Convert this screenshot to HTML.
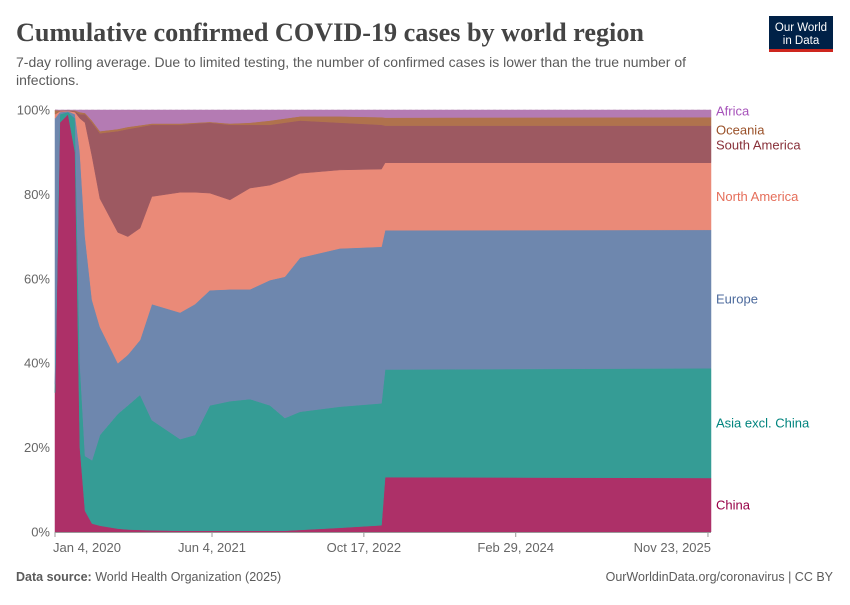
<!DOCTYPE html>
<html><head><meta charset="utf-8"><style>
body{margin:0;background:#fff;width:850px;height:600px;overflow:hidden;font-family:"Liberation Sans",sans-serif}
</style></head><body>
<svg width="850" height="600" xmlns="http://www.w3.org/2000/svg">
<text x="16" y="41" font-family="Liberation Serif,serif" font-weight="bold" font-size="26.2" fill="#444">Cumulative confirmed COVID-19 cases by world region</text>
<text x="16" y="67" font-size="14" fill="#5b5b5b">7-day rolling average. Due to limited testing, the number of confirmed cases is lower than the true number of</text>
<text x="16" y="85" font-size="14" fill="#5b5b5b">infections.</text>
<g>
<rect x="769" y="16" width="64" height="33" fill="#002147"/>
<rect x="769" y="49" width="64" height="3" fill="#ce261e"/>
<text x="801" y="31" font-size="11.5" fill="#fff" text-anchor="middle">Our World</text>
<text x="801" y="44" font-size="11.5" fill="#fff" text-anchor="middle">in Data</text>
</g>
<g id="grid"></g>
<g id="areas"></g>
<g id="axes"></g>
<g id="labels"></g>
<text x="16" y="581" font-size="12.5" fill="#5b5b5b"><tspan font-weight="bold">Data source:</tspan> World Health Organization (2025)</text>
<text x="833" y="581" font-size="12.5" fill="#5b5b5b" text-anchor="end">OurWorldinData.org/coronavirus | CC BY</text>
</svg>
<script>
const regions=["China","Asia excl. China","Europe","North America","South America","Oceania","Africa"];
const fills=["#ad3068","#359c95","#6e87ae","#ea8a78","#9d5961","#b0724d","#b47bb3"];
const labelColors=["#970046","#00847e","#4c6a9c","#e56e5a","#883039","#9a5129","#a652ba"];
const days=[0,16,43,66,82,99,122,148,207,240,280,319,412,461,510,576,642,708,757,807,938,1075,1087,2160];
const china=[33,97,99,90,20,5,2,1.5,0.8,0.6,0.5,0.4,0.3,0.3,0.3,0.3,0.3,0.3,0.3,0.5,1,1.6,13,12.8];
const asia=[2,2,0.5,8,20,13,15,21.5,27.2,29.4,32,26.1,21.7,22.7,29.7,30.7,31.2,29.7,26.7,28,28.7,28.9,25.5,26];
const europe=[63,0.5,0.2,1,50,52,38,25.6,12,12,13,27.5,30,31,27.3,26.5,26,29.7,33.5,36.5,37.5,37.1,33,32.8];
const northAmerica=[1,0.2,0.1,0.5,8,27,34,30.4,31,28,26.5,25.5,28.5,26.5,23,21.2,24,22.5,23,20,18.6,18.4,16,15.9];
const southAmerica=[0,0.1,0.1,0.2,1,2,8,15.5,24,25.5,24,17,16,16.3,16.7,17.8,15,14.3,13.5,12.5,11.2,10.5,8.8,8.8];
const oceania=[1,0.1,0.05,0.2,0.5,0.3,0.5,0.5,0.5,0.5,0.4,0.3,0.3,0.2,0.2,0.3,0.5,1,1,1,1.5,1.8,1.9,2];
const africa=[0,0.1,0.05,0.1,0.5,0.7,2.5,5,4.5,4,3.6,3.2,3.2,3,2.8,3.2,3,2.5,2,1.5,1.5,1.7,1.8,1.7];
const yTicks=[0,20,40,60,80,100];
const xTickDays=[0,517,1017,1517,2150];
const xTickLabels=["Jan 4, 2020","Jun 4, 2021","Oct 17, 2022","Feb 29, 2024","Nov 23, 2025"];
const series=[china,asia,europe,northAmerica,southAmerica,oceania,africa];
const NS="http://www.w3.org/2000/svg";
const X0=55,X1=711,Y0=532,Y1=110,DMAX=2160;
const xs=d=>X0+(X1-X0)*d/DMAX;
const ys=p=>Y0-(Y0-Y1)*p/100;
function mk(t,a,p){const e=document.createElementNS(NS,t);for(const k in a)e.setAttribute(k,a[k]);p.appendChild(e);return e;}
const grid=document.getElementById('grid'),areas=document.getElementById('areas'),axes=document.getElementById('axes'),labels=document.getElementById('labels');
yTicks.forEach(v=>{
 const l=mk('line',{x1:X0,x2:X1,y1:ys(v),y2:ys(v),stroke:'#ddd','stroke-dasharray':'3,3'},grid);
 
 
 const t=mk('text',{x:50,y:ys(v)+4.5,'text-anchor':'end','font-size':13,fill:'#666'},axes);
 t.textContent=v+'%';
 
 
});
const n=days.length;
const cum=[];let base=new Array(n).fill(0);
const totals=days.map((_,i)=>series.reduce((s,a)=>s+a[i],0));
series.forEach((arr,k)=>{
 const top=base.map((b,i)=>b+arr[i]/totals[i]*100);
 let d='M'+days.map((dd,i)=>xs(dd).toFixed(2)+','+ys(top[i]).toFixed(2)).join('L');
 for(let i=n-1;i>=0;i--)d+='L'+xs(days[i]).toFixed(2)+','+ys(base[i]).toFixed(2);
 const p=mk('path',{d:d+'Z',fill:fills[k],stroke:fills[k],'stroke-width':0.5,'stroke-linejoin':'round'},areas);
 
 
 cum.push([base[n-1],top[n-1]]);
 base=top;
});
mk('line',{x1:X0,x2:X1,y1:Y0+0.5,y2:Y0+0.5,stroke:'#999'},axes);
xTickDays.forEach((d,i)=>{
 const x=xs(d);
 mk('line',{x1:x,x2:x,y1:Y0,y2:Y0+5,stroke:'#999'},axes);
 const anchor=i===0?'start':(i===xTickDays.length-1?'end':'middle');
 const t=mk('text',{x:i===0?X0-2:(i===xTickDays.length-1?X1:x),y:552,'text-anchor':anchor,'font-size':13,fill:'#666'},axes);
 t.textContent=xTickLabels[i];
 
 
});
let prev=-1e9;const ly=[];
for(let k=series.length-1;k>=0;k--){
 let y=ys((cum[k][0]+cum[k][1])/2);
 if(k===series.length-1)y=Math.max(y,111)-2.5;
 y=Math.max(y,prev+(k===series.length-2?19:15));prev=y;ly[k]=y;
}
for(let k=0;k<series.length;k++){
 const t=mk('text',{x:716,y:ly[k]+4.5,'font-size':13,fill:labelColors[k]},labels);
 t.textContent=regions[k];
 
 
}
</script>
</body></html>
